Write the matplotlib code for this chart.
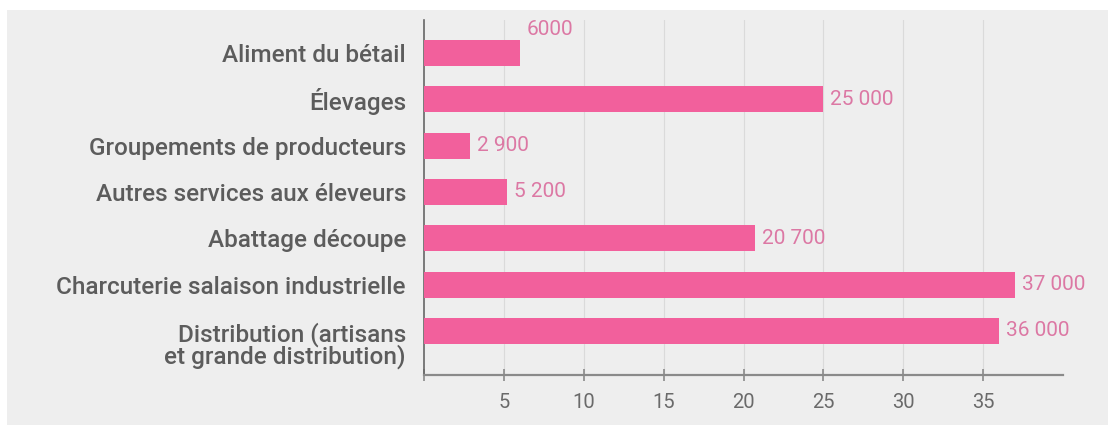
import matplotlib
matplotlib.use("Agg")
import matplotlib.pyplot as plt
from matplotlib.patches import Rectangle
from matplotlib.transforms import ScaledTranslation

categories = [
    "Aliment du bétail",
    "Élevages",
    "Groupements de producteurs",
    "Autres services aux éleveurs",
    "Abattage découpe",
    "Charcuterie salaison industrielle",
    "Distribution (artisans\net grande distribution)",
]
values = [6.0, 25.0, 2.9, 5.2, 20.7, 37.0, 36.0]
value_labels = ["6000", "25 000", "2 900", "5 200", "20 700", "37 000", "36 000"]
x_ticks = [0, 5, 10, 15, 20, 25, 30, 35]
x_tick_labels = ["", "5", "10", "15", "20", "25", "30", "35"]

BG = "#eeeeee"
PINK = "#f2609c"
LABEL_PINK = "#dc78a4"
TEXT = "#5c5c5c"

plt.rcParams["font.family"] = ["Roboto", "DejaVu Sans"]

W, H = 1108, 425
fig = plt.figure(figsize=(W / 100, H / 100), dpi=100, facecolor="white")
fig.patches.append(Rectangle((7 / W, 0), 1, 1 - 10 / H, transform=fig.transFigure,
                             facecolor=BG, edgecolor="none", zorder=-10))

left, right, top, bottom = 424, 1063, 20, 375
ax = fig.add_axes([left / W, 1 - bottom / H, (right - left) / W, (bottom - top) / H])
ax.set_facecolor("none")

ypos = list(range(len(categories)))
ax.barh(ypos, values, height=0.56, color=PINK, zorder=3)

ax.set_xlim(0, 40)
ax.set_ylim(6.95, -0.71)

ax.set_yticks(ypos)
ax.set_yticklabels(categories, fontsize=17.5, color=TEXT, fontweight="medium", linespacing=0.88)
ax.tick_params(axis="y", length=0, pad=13)
last = ax.get_yticklabels()[-1]
last.set_transform(last.get_transform() + ScaledTranslation(0, -13 / 100, fig.dpi_scale_trans))

ax.set_xticks(x_ticks)
ax.set_xticklabels(x_tick_labels, fontsize=14.5, color="#6a6a6a")
ax.tick_params(axis="x", direction="inout", length=8, width=1.2, color="#8a8a8a", pad=9)

for t in x_ticks[1:]:
    ax.axvline(t, color="#dadada", lw=0.8, zorder=1)

for s in ["top", "right"]:
    ax.spines[s].set_visible(False)
ax.spines["left"].set_color("#666666")
ax.spines["left"].set_linewidth(1.2)
ax.spines["bottom"].set_color("#8a8a8a")
ax.spines["bottom"].set_linewidth(1.6)

for i, (v, lab) in enumerate(zip(values, value_labels)):
    dy = 17 if i == 0 else 0
    ax.annotate(lab, xy=(v, i), xytext=(5, dy), textcoords="offset points",
                ha="left", va="center", fontsize=15, color=LABEL_PINK, zorder=4)

fig.savefig("out.png", dpi=100, facecolor=fig.get_facecolor())
